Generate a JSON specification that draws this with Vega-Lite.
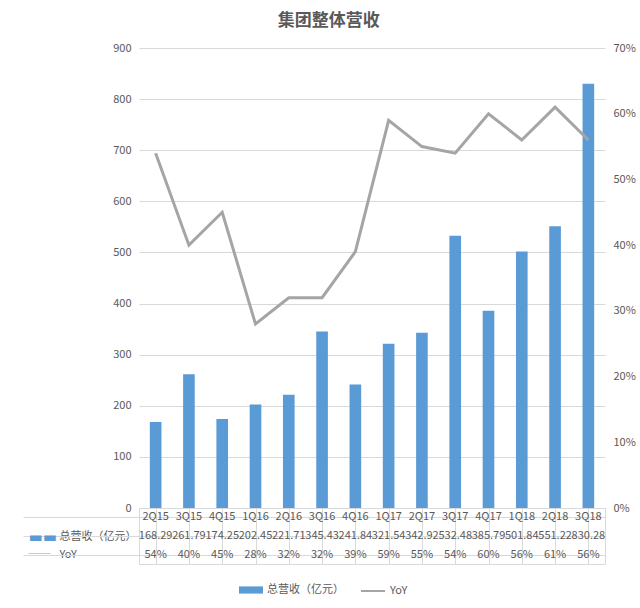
{
  "$schema": "https://vega.github.io/schema/vega-lite/v6.json",
  "padding": {"left": 22, "top": 12, "right": 5, "bottom": 5},
  "title": {"text": "集团整体营收", "fontSize": 17, "font": "Noto Sans CJK SC", "fontWeight": "bold", "color": "#595959", "anchor": "middle", "offset": 12},
  "config": {
    "font": "Noto Sans CJK SC",
    "view": {"stroke": null},
    "axis": {"labelColor": "#595959", "labelFontSize": 11, "labelFont": "Noto Sans CJK SC", "title": null},
    "legend": {"orient": "none", "legendX": 100, "legendY": 530, "direction": "horizontal", "labelColor": "#595959", "labelFontSize": 11, "labelFont": "Noto Sans CJK SC", "title": null,
               "layout": {"none": {"direction": "horizontal", "margin": 14}}}
  },
  "datasets": {
    "d": [
      {"q": "2Q15", "rev": 168.29, "yoy": 0.54},
      {"q": "3Q15", "rev": 261.79, "yoy": 0.40},
      {"q": "4Q15", "rev": 174.25, "yoy": 0.45},
      {"q": "1Q16", "rev": 202.45, "yoy": 0.28},
      {"q": "2Q16", "rev": 221.71, "yoy": 0.32},
      {"q": "3Q16", "rev": 345.43, "yoy": 0.32},
      {"q": "4Q16", "rev": 241.84, "yoy": 0.39},
      {"q": "1Q17", "rev": 321.54, "yoy": 0.59},
      {"q": "2Q17", "rev": 342.92, "yoy": 0.55},
      {"q": "3Q17", "rev": 532.48, "yoy": 0.54},
      {"q": "4Q17", "rev": 385.79, "yoy": 0.60},
      {"q": "1Q18", "rev": 501.84, "yoy": 0.56},
      {"q": "2Q18", "rev": 551.22, "yoy": 0.61},
      {"q": "3Q18", "rev": 830.28, "yoy": 0.56}
    ]
  },
  "bounds": "flush",
  "spacing": 0,
  "resolve": {"scale": {"x": "independent", "y": "independent", "fill": "shared", "stroke": "shared"}, "legend": {"fill": "shared", "stroke": "shared"}},
  "vconcat": [
    {
      "width": 466,
      "height": 460,
      "data": {"name": "d"},
      "layer": [
        {
          "mark": {"type": "bar", "width": {"band": 0.35}},
          "encoding": {
            "x": {"field": "q", "type": "nominal", "sort": null, "scale": {"paddingInner": 0, "paddingOuter": 0}, "axis": null},
            "y": {"field": "rev", "type": "quantitative", "scale": {"domain": [0, 900]},
                  "axis": {"values": [0, 100, 200, 300, 400, 500, 600, 700, 800, 900], "grid": true, "gridColor": "#d9d9d9", "domain": false, "ticks": false, "labelPadding": 8}},
            "fill": {"datum": "总营收（亿元）", "type": "nominal", "scale": {"range": ["#5b9bd5"]},
                     "legend": {"symbolType": "M-1,-0.3H1V0.3H-1Z", "symbolSize": 576, "symbolStrokeWidth": 0}}
          }
        },
        {
          "mark": {"type": "line", "strokeWidth": 3},
          "encoding": {
            "x": {"field": "q", "type": "nominal", "sort": null, "scale": {"paddingInner": 0, "paddingOuter": 0}, "axis": null},
            "y": {"field": "yoy", "type": "quantitative", "scale": {"domain": [0, 0.7]},
                  "axis": {"orient": "right", "format": ".0%", "values": [0, 0.1, 0.2, 0.3, 0.4, 0.5, 0.6, 0.7], "grid": false, "domain": false, "ticks": false, "labelPadding": 8}},
            "stroke": {"datum": "YoY", "type": "nominal", "scale": {"range": ["#a5a5a5"]},
                       "legend": {"symbolType": "stroke", "symbolSize": 576, "symbolStrokeWidth": 2, "legendX": 221}}
          }
        }
      ],
      "resolve": {"scale": {"y": "independent"}}
    },
    {
      "width": 466,
      "height": 56,
      "data": {"name": "d"},
      "view": {"stroke": "#d9d9d9"},
      "encoding": {
        "x": {"field": "q", "type": "nominal", "sort": null, "scale": {"paddingInner": 0, "paddingOuter": 0},
              "axis": {"orient": "bottom", "labels": false, "ticks": false, "domain": false, "grid": true, "gridColor": "#d9d9d9", "bandPosition": 0}}
      },
      "layer": [
        {
          "mark": {"type": "text", "fontSize": 11, "color": "#595959"},
          "encoding": {
            "y": {"datum": "q", "type": "nominal", "scale": {"domain": ["q", "rev", "yoy"], "paddingInner": 0, "paddingOuter": 0},
                  "axis": {"orient": "left", "offset": 0, "labelExpr": "datum.value == 'rev' ? '总营收（亿元）' : datum.value == 'yoy' ? 'YoY' : ''", "labelAlign": "left", "labelPadding": 80, "ticks": false, "domain": false, "grid": false}},
            "text": {"field": "q"}
          }
        },
        {
          "mark": {"type": "text", "fontSize": 11, "color": "#595959"},
          "encoding": {
            "y": {"datum": "rev", "type": "nominal", "scale": {"domain": ["q", "rev", "yoy"], "paddingInner": 0, "paddingOuter": 0},
                  "axis": {"orient": "left", "offset": 0, "labels": false, "ticks": true, "tickSize": 116, "tickColor": "#d9d9d9", "bandPosition": 1, "grid": true, "gridColor": "#d9d9d9", "domain": false}},
            "text": {"field": "rev", "format": ".2f"}
          }
        },
        {
          "mark": {"type": "text", "fontSize": 11, "color": "#595959"},
          "encoding": {
            "y": {"datum": "yoy", "type": "nominal", "scale": {"domain": ["q", "rev", "yoy"], "paddingInner": 0, "paddingOuter": 0},
                  "axis": {"orient": "left", "offset": 0, "labelExpr": "datum.value == 'rev' ? '▬▬' : datum.value == 'yoy' ? '──' : ''",
                           "labelColor": {"condition": {"test": "datum.value == 'rev'", "value": "#5b9bd5"}, "value": "#a5a5a5"},
                           "labelFontSize": {"condition": {"test": "datum.value == 'rev'", "value": 15}, "value": 11},
                           "labelFont": {"condition": {"test": "datum.value == 'rev'", "value": "DejaVu Sans"}, "value": "Noto Sans CJK SC"},
                           "labelAlign": "left", "labelPadding": 111, "ticks": false, "domain": false, "grid": false}},
            "text": {"field": "yoy", "format": ".0%"}
          }
        }
      ],
      "resolve": {"scale": {"y": "independent"}, "axis": {"y": "independent"}}
    }
  ]
}
